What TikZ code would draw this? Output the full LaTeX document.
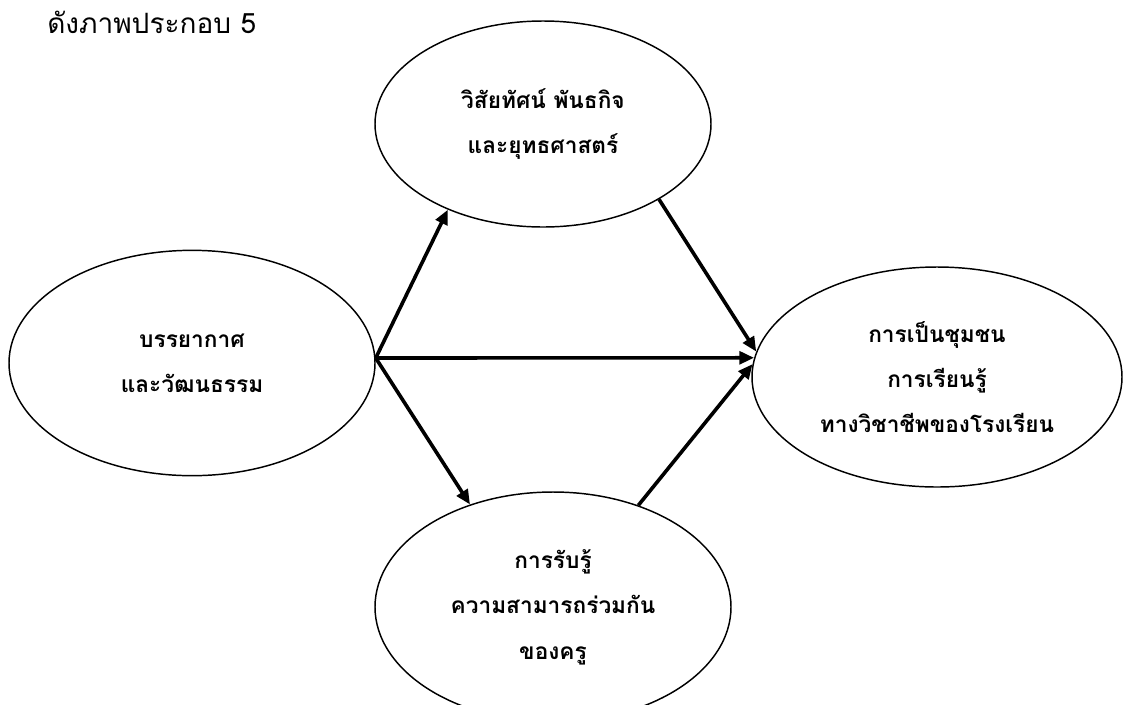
\documentclass[tikz,border=0pt]{standalone}
\usepackage{fontspec}
\usetikzlibrary{shapes.geometric,arrows.meta,calc}
\newfontfamily\thaifont[Script=Thai]{Loma}
\begin{document}
\begin{tikzpicture}[x=0.75pt,y=-0.75pt,
  bubble/.style={ellipse,draw,line width=1.1pt,inner sep=0pt,align=center,
    font={\thaifont\bfseries\fontsize{17}{34}\selectfont}},
  link/.style={line width=2.7pt,-{Triangle[length=11pt,width=9.5pt]}}]
\useasboundingbox (0,0) rectangle (1124,704);
\begin{scope}
\clip (0,0) rectangle (1124,704);
\node[anchor=base west,inner sep=0pt,font={\thaifont\fontsize{21}{24}\selectfont}] (title) at (47,33) {ดังภาพประกอบ 5};

\node[bubble,minimum width=252pt,minimum height=154.5pt] (T) at (543,124)
  {วิสัยทัศน์ พันธกิจ\\และยุทธศาสตร์};
\node[bubble,minimum width=274.5pt,minimum height=169pt] (L) at (192,363)
  {บรรยากาศ\\และวัฒนธรรม};
\node[bubble,minimum width=277.5pt,minimum height=165pt] (R) at (937,377)
  {การเป็นชุมชน\\การเรียนรู้\\ทางวิชาชีพของโรงเรียน};
\node[bubble,minimum width=267pt,minimum height=172.5pt] (B) at (553,607)
  {การรับรู้\\ความสามารถร่วมกัน\\ของครู};

\coordinate (src) at ($(L.east)+(0,-5)$);
\draw[link] (src) -- (T.222);
\draw[link] (src) -- (R.174);
\draw[link] (src) -- (B.129);
\draw[link] (T.-33) -- (R.172);
\draw[link] (B.50) -- (R.176);
\end{scope}
\end{tikzpicture}
\end{document}
